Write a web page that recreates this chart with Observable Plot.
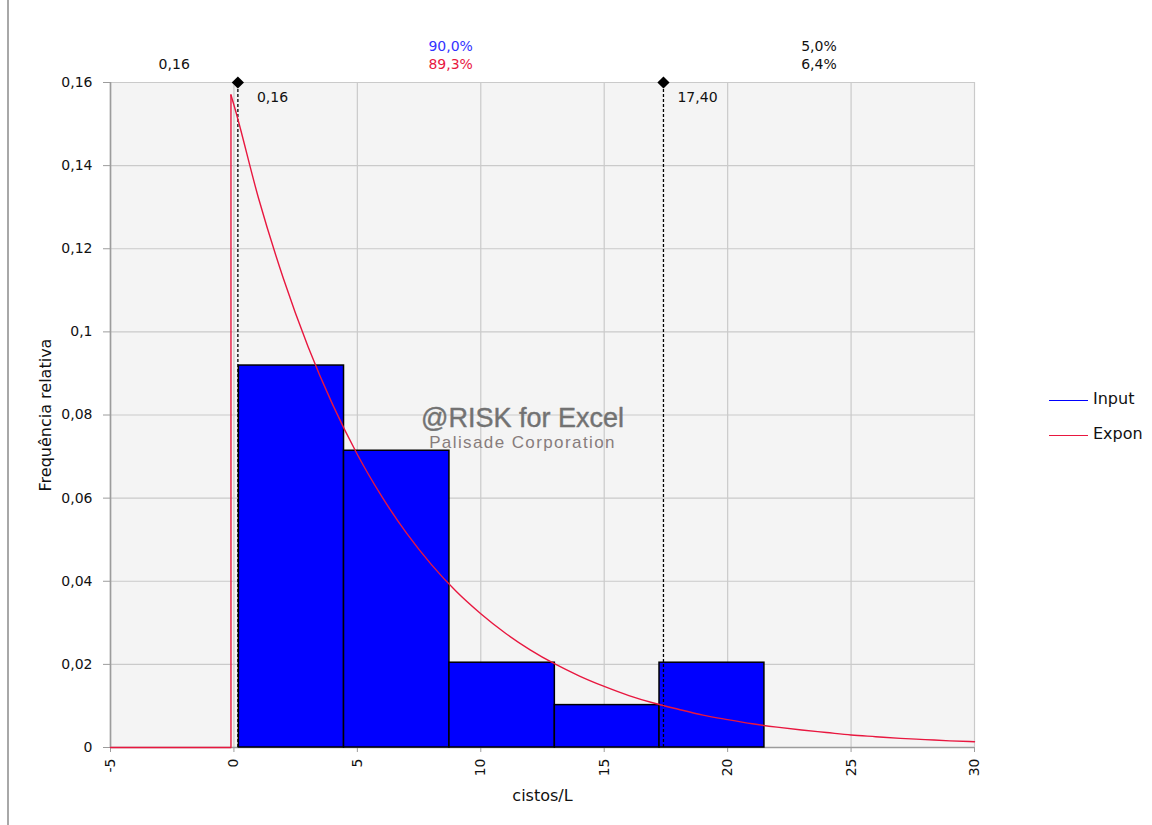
<!DOCTYPE html>
<html>
<head>
<meta charset="utf-8">
<script src="https://cdn.jsdelivr.net/npm/d3@7"></script>
<script src="https://cdn.jsdelivr.net/npm/@observablehq/plot@0.6"></script>
<style>
  html, body { margin: 0; padding: 0; background: #fff; }
  #wrap { position: relative; width: 1152px; height: 825px; overflow: hidden; font-family: "DejaVu Sans", sans-serif; }
  #edge { position: absolute; left: 7px; top: 0; width: 2px; height: 825px; background: #a8a8a8; }
  .leg { position: absolute; left: 1049px; font-size: 16px; color: #111; }
  .leg .sw { position: absolute; left: 0; width: 39px; height: 0; }
  .leg .lab { position: absolute; left: 44px; top: -11px; white-space: nowrap; }
  .wm2 text { letter-spacing: 1.4px; }
</style>
</head>
<body>
<div id="wrap">
  <div id="edge"></div>
  <div id="chart"></div>
  <div class="leg" style="top:400px"><div class="sw" style="border-top:1.5px solid #0000ff"></div><div class="lab">Input</div></div>
  <div class="leg" style="top:435px"><div class="sw" style="border-top:1.5px solid #e8173f"></div><div class="lab">Expon</div></div>
</div>
<script>
// ---- data ----
const binEdges = [0.2, 4.46, 8.73, 13.0, 17.24, 21.49];
const binHeights = [0.0919, 0.0714, 0.0204, 0.0102, 0.0204];

// Expon curve
const baseX = [-5, -0.12, -0.12];
const baseY = [0, 0, 0.157];
const curveX = [-0.12, 0, 1, 2, 3, 4, 5, 6, 7, 8, 9, 10, 11, 12, 13, 14, 15, 16, 17, 18, 19, 20, 21, 22, 23, 24, 25, 26, 27, 28, 29, 30];
const curveY = [0.157, 0.1546, 0.1321, 0.1129, 0.0965, 0.0825, 0.0705, 0.0603, 0.0515, 0.0440, 0.0376, 0.0322, 0.0275, 0.0235, 0.0201, 0.0172, 0.0147, 0.0125, 0.0107, 0.0092, 0.0078, 0.0067, 0.0057, 0.0049, 0.0042, 0.0036, 0.0030, 0.0026, 0.0022, 0.0019, 0.0016, 0.0014];

const markers = [0.16, 17.40];
const markerLabels = ["0,16", "17,40"];
const topRow1 = ["", "90,0%", "5,0%"];
const topRow1Colors = ["#111", "#3333ff", "#111"];
const topRow2 = ["0,16", "89,3%", "6,4%"];
const topRow2Colors = ["#111", "#e8173f", "#111"];

const xTicks = [-5, 0, 5, 10, 15, 20, 25, 30];
const yTicks = [0, 0.02, 0.04, 0.06, 0.08, 0.1, 0.12, 0.14, 0.16];
const xDomain = [-5, 30];
const yDomain = [0, 0.16];

// ---- derived tables ----
const bars = binHeights.map((h, i) => ({x1: binEdges[i], x2: binEdges[i + 1], y: h}));
const base = baseX.map((x, i) => ({x, y: baseY[i]}));
const curve = curveX.map((x, i) => ({x, y: curveY[i]}));
const bounds = [xDomain[0], ...markers, xDomain[1]];
const regionX = topRow2.map((_, i) => (bounds[i] + bounds[i + 1]) / 2);
const top1 = topRow1.map((t, i) => ({x: regionX[i], t, c: topRow1Colors[i]}));
const top2 = topRow2.map((t, i) => ({x: regionX[i], t, c: topRow2Colors[i]}));
const mk = markers.map((x, i) => ({x, y: yDomain[1], t: markerLabels[i]}));
const comma = d => String(d).replace(".", ",");

const RED = "#e8173f";
const GRID = "#cacaca";
const AX = "#9c9c9c";

const chart = Plot.plot({
  width: 1152,
  height: 825,
  marginTop: 82,
  marginRight: 178,
  marginBottom: 78,
  marginLeft: 110,
  style: {fontFamily: "DejaVu Sans, sans-serif", fontSize: "14px", background: "transparent", overflow: "visible"},
  x: {domain: xDomain},
  y: {domain: yDomain},
  marks: [
    Plot.frame({fill: "#f4f4f4", stroke: null}),
    Plot.gridX(xTicks, {stroke: GRID, strokeOpacity: 1, strokeWidth: 1.2}),
    Plot.gridY(yTicks, {stroke: GRID, strokeOpacity: 1, strokeWidth: 1.2}),
    Plot.ruleX([xDomain[0]], {stroke: AX, strokeWidth: 1.6}),
    Plot.ruleY([0], {stroke: AX, strokeWidth: 1.6}),
    Plot.axisY(yTicks, {tickFormat: comma, tickSize: 7, tickPadding: 11, stroke: AX, fill: "#111", label: null, fontSize: 14}),
    Plot.axisX(xTicks, {tickFormat: d => String(d), tickRotate: -90, tickSize: 5, tickPadding: 6, stroke: AX, fill: "#111", label: null, fontSize: 14}),
    Plot.rectY(bars, {x1: "x1", x2: "x2", y1: 0, y2: "y", fill: "#0000ff", stroke: "#000", strokeWidth: 1.5}),
    Plot.ruleX(mk, {x: "x", y1: 0, y2: "y", stroke: "#000", strokeWidth: 1.3, strokeDasharray: "3,2"}),
    Plot.line(base, {x: "x", y: "y", stroke: RED, strokeWidth: 1.4}),
    Plot.line(curve, {x: "x", y: "y", stroke: RED, strokeWidth: 1.4, curve: "monotone-x"}),
    Plot.dot(mk, {x: "x", y: "y", symbol: "diamond2", r: 5.5, fill: "#000", stroke: null}),
    Plot.text(mk.slice(0, 1), {x: "x", y: "y", text: "t", textAnchor: "start", dx: 19, dy: 15, fill: "#111", fontSize: 14}),
    Plot.text(mk.slice(1), {x: "x", y: "y", text: "t", textAnchor: "start", dx: 14, dy: 15, fill: "#111", fontSize: 14}),
    Plot.text(top1, {x: "x", frameAnchor: "top", text: "t", fill: "c", dy: -41, fontSize: 14}),
    Plot.text(top2, {x: "x", frameAnchor: "top", text: "t", fill: "c", dy: -23, fontSize: 14}),
    Plot.text(["@RISK for Excel"], {frameAnchor: "middle", dx: -20, dy: 3, fontSize: 27, fill: "#727272", stroke: "#727272", strokeWidth: 0.4, fontFamily: "Liberation Sans, Arial, sans-serif"}),
    Plot.text(["Palisade Corporation"], {frameAnchor: "middle", dx: -20, dy: 28, fontSize: 17, fill: "#877c7c", fontFamily: "Liberation Sans, Arial, sans-serif", className: "wm2"}),
    Plot.text(["Frequência relativa"], {frameAnchor: "left", textAnchor: "middle", dx: -65, rotate: -90, fontSize: 16, fill: "#111"}),
    Plot.text(["cistos/L"], {frameAnchor: "bottom", textAnchor: "middle", dy: 53, fontSize: 16, fill: "#111"})
  ]
});
document.getElementById("chart").appendChild(chart);
</script>
</body>
</html>
